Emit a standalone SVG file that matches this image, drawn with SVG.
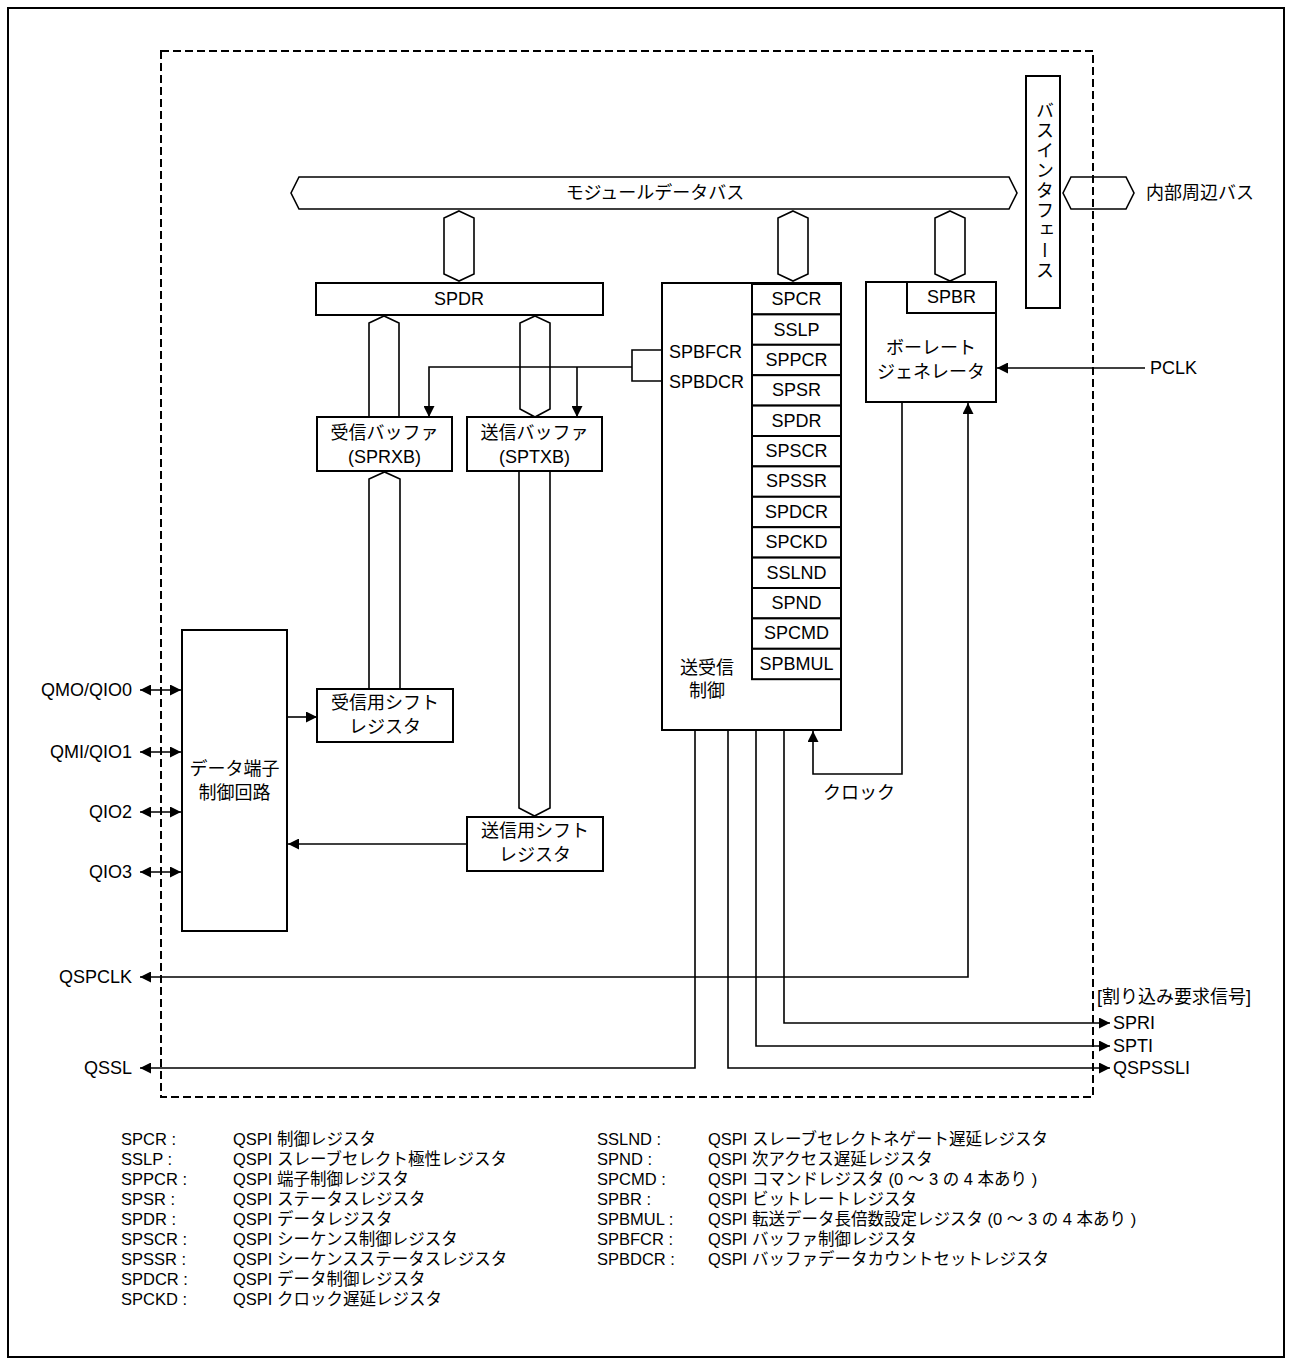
<svg xmlns="http://www.w3.org/2000/svg" width="1290" height="1365" viewBox="0 0 1290 1365">
<defs>
<marker id="arr" viewBox="0 0 11 11" refX="11" refY="5.5" markerWidth="11" markerHeight="11" markerUnits="userSpaceOnUse" orient="auto-start-reverse"><path d="M0,0 L11,5.5 L0,11 Z" fill="#000"/></marker>
<style>
text{font-family:"Liberation Sans","Noto Sans CJK JP",sans-serif;fill:#000}
.t{font-size:18px;text-anchor:middle;dominant-baseline:central}
.tl{font-size:18px;dominant-baseline:central}
.tr{font-size:18px;text-anchor:end;dominant-baseline:central}
.lg{font-size:16.5px;dominant-baseline:central}
.box{fill:#fff;stroke:#000;stroke-width:2}
.hex{fill:none;stroke:#000;stroke-width:1.6}
.ln{fill:none;stroke:#000;stroke-width:1.6}
.ar{fill:none;stroke:#000;stroke-width:1.6;marker-end:url(#arr)}
.ar2{fill:none;stroke:#000;stroke-width:1.6;marker-start:url(#arr);marker-end:url(#arr)}
</style>
</defs>
<rect x="0" y="0" width="1290" height="1365" fill="#fff"/>
<rect x="8" y="8" width="1276" height="1349" fill="none" stroke="#000" stroke-width="2"/>

<g id="module-bus">
<path class="hex" d="M291,193 L299,177 H1009 L1017,193 L1009,209 H299 Z"/>
<text class="t" x="655" y="193">モジュールデータバス</text>
</g>
<g id="bus-interface">
<rect class="box" x="1026" y="76" width="34" height="232"/>
<text x="1043" y="191" style="font-size:18px;writing-mode:vertical-rl;text-anchor:middle;letter-spacing:2px">バスインタフェース</text>
</g>
<g id="internal-bus">
<path class="hex" d="M1063,193 L1071,177 H1126 L1134,193 L1126,209 H1071 Z"/>
<text class="tl" x="1146" y="193">内部周辺バス</text>
</g>

<g id="spdr">
<rect class="box" x="316" y="283" width="287" height="32"/>
<text class="t" x="459" y="299">SPDR</text>
</g>
<g id="rx-buffer">
<rect class="box" x="317" y="417" width="135" height="54"/>
<text class="t" x="384.5" y="433">受信バッファ</text>
<text class="t" x="384.5" y="457">(SPRXB)</text>
</g>
<g id="tx-buffer">
<rect class="box" x="467" y="417" width="135" height="54"/>
<text class="t" x="534.5" y="433">送信バッファ</text>
<text class="t" x="534.5" y="457">(SPTXB)</text>
</g>
<g id="rx-shift">
<rect class="box" x="317" y="689" width="136" height="53"/>
<text class="t" x="385" y="703">受信用シフト</text>
<text class="t" x="385" y="727">レジスタ</text>
</g>
<g id="tx-shift">
<rect class="box" x="467" y="817" width="136" height="54"/>
<text class="t" x="535" y="831">送信用シフト</text>
<text class="t" x="535" y="855">レジスタ</text>
</g>
<g id="data-pin-ctrl">
<rect class="box" x="182" y="630" width="105" height="301"/>
<text class="t" x="234.5" y="769">データ端子</text>
<text class="t" x="234.5" y="793">制御回路</text>
</g>

<g id="txrx-ctrl">
<rect class="box" x="662" y="283" width="179" height="447"/>
<text class="tl" x="669" y="352">SPBFCR</text>
<text class="tl" x="669" y="382">SPBDCR</text>
<text class="t" x="707" y="668">送受信</text>
<text class="t" x="707" y="691">制御</text>
<g id="registers">
<rect class="box" x="752" y="284" width="89" height="30.4"/>
<rect class="box" x="752" y="314.4" width="89" height="30.4"/>
<rect class="box" x="752" y="344.8" width="89" height="30.4"/>
<rect class="box" x="752" y="375.2" width="89" height="30.4"/>
<rect class="box" x="752" y="405.6" width="89" height="30.4"/>
<rect class="box" x="752" y="436" width="89" height="30.4"/>
<rect class="box" x="752" y="466.4" width="89" height="30.4"/>
<rect class="box" x="752" y="496.8" width="89" height="30.4"/>
<rect class="box" x="752" y="527.2" width="89" height="30.4"/>
<rect class="box" x="752" y="557.6" width="89" height="30.4"/>
<rect class="box" x="752" y="588" width="89" height="30.4"/>
<rect class="box" x="752" y="618.4" width="89" height="30.4"/>
<rect class="box" x="752" y="648.8" width="89" height="30.4"/>
<text class="t" x="796.5" y="299">SPCR</text>
<text class="t" x="796.5" y="330">SSLP</text>
<text class="t" x="796.5" y="360">SPPCR</text>
<text class="t" x="796.5" y="390">SPSR</text>
<text class="t" x="796.5" y="421">SPDR</text>
<text class="t" x="796.5" y="451">SPSCR</text>
<text class="t" x="796.5" y="481">SPSSR</text>
<text class="t" x="796.5" y="512">SPDCR</text>
<text class="t" x="796.5" y="542">SPCKD</text>
<text class="t" x="796.5" y="573">SSLND</text>
<text class="t" x="796.5" y="603">SPND</text>
<text class="t" x="796.5" y="633">SPCMD</text>
<text class="t" x="796.5" y="664">SPBMUL</text>
</g>
</g>

<g id="baud-gen">
<rect class="box" x="866" y="282" width="130" height="120"/>
<rect class="box" x="907" y="282" width="89" height="31"/>
<text class="t" x="951.5" y="297">SPBR</text>
<text class="t" x="931" y="348">ボーレート</text>
<text class="t" x="931" y="372">ジェネレータ</text>
</g>

<g id="connectors">
<path class="hex" d="M459,211 L474,218 V274 L459,281 L444,274 V218 Z"/>
<path class="hex" d="M793,211 L808,218 V274 L793,281 L778,274 V218 Z"/>
<path class="hex" d="M950,211 L965,218 V274 L950,281 L935,274 V218 Z"/>
<path class="hex" d="M369,417 V323 L384,316 L399,323 V417"/>
<path class="hex" d="M535,316 L550,323 V409 L535,417 L520,409 V323 Z"/>
<path class="hex" d="M369,689 V479 L384.5,472 L400,479 V689"/>
<path class="hex" d="M519,471 V808 L534.5,816 L550,808 V471"/>

<path class="ln" d="M662,350 H632 V381 H662"/>
<path class="ar" d="M632,367 H429 V417"/>
<path class="ar" d="M577,367 V417"/>

<path class="ar" d="M287,717 H317"/>
<path class="ar" d="M467,844 H288"/>
<path class="ar" d="M1145,368 H997"/>

<path class="ar" d="M902,402 V774 H813 V731"/>
<path class="ar2" d="M140,977 H968 V403"/>
<path class="ar" d="M695,730 V1068 H140"/>
<path class="ar" d="M728,730 V1068 H1110"/>
<path class="ar" d="M756,730 V1046 H1110"/>
<path class="ar" d="M784,730 V1023 H1110"/>

<path class="ar2" d="M140,690 H181"/>
<path class="ar2" d="M140,752 H181"/>
<path class="ar2" d="M140,812 H181"/>
<path class="ar2" d="M140,872 H181"/>
</g>

<g id="labels">
<text class="tr" x="132" y="690">QMO/QIO0</text>
<text class="tr" x="132" y="752">QMI/QIO1</text>
<text class="tr" x="132" y="812">QIO2</text>
<text class="tr" x="132" y="872">QIO3</text>
<text class="tr" x="132" y="977">QSPCLK</text>
<text class="tr" x="132" y="1068">QSSL</text>
<text class="tl" x="1150" y="368">PCLK</text>
<text class="t" x="859" y="793">クロック</text>
<text class="tl" x="1097" y="997" style="font-size:18px">[割り込み要求信号]</text>
<text class="tl" x="1113" y="1023">SPRI</text>
<text class="tl" x="1113" y="1046">SPTI</text>
<text class="tl" x="1113" y="1068">QSPSSLI</text>
</g>

<rect id="module-boundary" x="161" y="51" width="932" height="1046" fill="none" stroke="#000" stroke-width="2" stroke-dasharray="8 4"/>

<g id="legend">
<text class="lg" x="121" y="1139">SPCR :</text><text class="lg" x="233" y="1139">QSPI 制御レジスタ</text>
<text class="lg" x="121" y="1159">SSLP :</text><text class="lg" x="233" y="1159">QSPI スレーブセレクト極性レジスタ</text>
<text class="lg" x="121" y="1179">SPPCR :</text><text class="lg" x="233" y="1179">QSPI 端子制御レジスタ</text>
<text class="lg" x="121" y="1199">SPSR :</text><text class="lg" x="233" y="1199">QSPI ステータスレジスタ</text>
<text class="lg" x="121" y="1219">SPDR :</text><text class="lg" x="233" y="1219">QSPI データレジスタ</text>
<text class="lg" x="121" y="1239">SPSCR :</text><text class="lg" x="233" y="1239">QSPI シーケンス制御レジスタ</text>
<text class="lg" x="121" y="1259">SPSSR :</text><text class="lg" x="233" y="1259">QSPI シーケンスステータスレジスタ</text>
<text class="lg" x="121" y="1279">SPDCR :</text><text class="lg" x="233" y="1279">QSPI データ制御レジスタ</text>
<text class="lg" x="121" y="1299">SPCKD :</text><text class="lg" x="233" y="1299">QSPI クロック遅延レジスタ</text>
<text class="lg" x="597" y="1139">SSLND :</text><text class="lg" x="708" y="1139">QSPI スレーブセレクトネゲート遅延レジスタ</text>
<text class="lg" x="597" y="1159">SPND :</text><text class="lg" x="708" y="1159">QSPI 次アクセス遅延レジスタ</text>
<text class="lg" x="597" y="1179">SPCMD :</text><text class="lg" x="708" y="1179">QSPI コマンドレジスタ (0 ～ 3 の 4 本あり )</text>
<text class="lg" x="597" y="1199">SPBR :</text><text class="lg" x="708" y="1199">QSPI ビットレートレジスタ</text>
<text class="lg" x="597" y="1219">SPBMUL :</text><text class="lg" x="708" y="1219">QSPI 転送データ長倍数設定レジスタ (0 ～ 3 の 4 本あり )</text>
<text class="lg" x="597" y="1239">SPBFCR :</text><text class="lg" x="708" y="1239">QSPI バッファ制御レジスタ</text>
<text class="lg" x="597" y="1259">SPBDCR :</text><text class="lg" x="708" y="1259">QSPI バッファデータカウントセットレジスタ</text>
</g>
</svg>
